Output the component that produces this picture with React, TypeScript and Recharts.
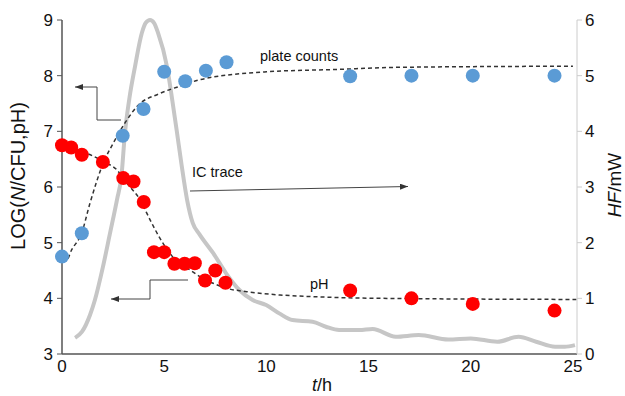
import React from "react";
import { ComposedChart, Line, Scatter, XAxis, YAxis } from "recharts";

const FONT = "'Liberation Sans', Arial, Helvetica, sans-serif";

// plate counts (log N / CFU)
const plateTime = [0, 0.97, 2.97, 3.99, 5.0, 6.03, 7.04, 8.05, 14.1, 17.1, 20.1, 24.1];
const plateLog = [4.75, 5.17, 6.92, 7.4, 8.07, 7.9, 8.09, 8.24, 7.99, 8.0, 8.0, 8.0];

// pH measurements
const phTime = [0, 0.45, 0.97, 2.0, 3.0, 3.5, 4.0, 4.5, 5.0, 5.5, 6.0, 6.5, 7.0, 7.5, 8.0, 14.1, 17.1, 20.1, 24.1];
const phValue = [6.75, 6.71, 6.58, 6.45, 6.16, 6.1, 5.73, 4.83, 4.83, 4.62, 4.62, 4.63, 4.32, 4.5, 4.28, 4.14, 4.0, 3.9, 3.78];

// dashed fitted curves
const plateFitTime = [0, 0.23, 0.47, 0.96, 1.37, 2.02, 2.51, 3.17, 3.65, 4.79, 5.93, 6.67, 10.0, 13.3, 16.5, 25.0];
const plateFitLog = [4.72, 4.69, 4.87, 5.17, 5.71, 6.43, 6.79, 7.2, 7.44, 7.68, 7.83, 7.92, 8.07, 8.11, 8.15, 8.17];

const phFitTime = [0, 0.5, 1.0, 1.5, 2.0, 2.68, 3.17, 3.82, 4.31, 4.79, 5.28, 5.61, 6.26, 6.75, 7.4, 8.06, 9.04, 10.67, 12.29, 13.93, 15.56, 25.2];
const phFitValue = [6.76, 6.7, 6.63, 6.56, 6.46, 6.31, 6.07, 5.77, 5.41, 5.08, 4.81, 4.66, 4.51, 4.39, 4.27, 4.18, 4.12, 4.06, 4.03, 4.01, 4.0, 3.98];

// isothermal calorimetry trace (heat flow, mW)
const icTime = [0.64, 0.98, 1.37, 1.61, 2.0, 2.35, 2.69, 2.91, 3.08, 3.3, 3.57, 3.91, 4.1, 4.31, 4.5, 4.7, 5.14, 5.4, 5.63, 5.85, 6.12, 6.4, 6.73, 7.4, 8.03, 8.68, 9.33, 9.99, 10.63, 11.28, 12.26, 12.91, 13.56, 14.54, 15.2, 16.33, 17.46, 18.9, 20.0, 21.3, 22.34, 23.2, 24.13, 24.6, 25.1];
const icHeat = [0.29, 0.4, 0.7, 0.97, 1.56, 2.17, 2.77, 3.2, 3.97, 4.6, 5.16, 5.77, 5.95, 6.0, 5.95, 5.77, 5.16, 4.55, 3.97, 3.4, 2.77, 2.35, 2.15, 1.81, 1.45, 1.15, 0.97, 0.88, 0.73, 0.61, 0.58, 0.49, 0.43, 0.43, 0.45, 0.31, 0.34, 0.26, 0.28, 0.22, 0.31, 0.22, 0.13, 0.13, 0.16];

const xTicks = [0, 5, 10, 15, 20, 25];
const leftTicks = [3, 4, 5, 6, 7, 8, 9];
const rightTicks = [0, 1, 2, 3, 4, 5, 6];

const zip = (ts: number[], ys: number[]) => ts.map((t, i) => ({ t, y: ys[i] }));

const plateData = zip(plateTime, plateLog);
const phData = zip(phTime, phValue);
const plateFit = zip(plateFitTime, plateFitLog);
const phFit = zip(phFitTime, phFitValue);
const icData = zip(icTime, icHeat);

const dot = (color: string) => (props: any) => (
  <circle cx={props.cx} cy={props.cy} r={7} fill={color} />
);

export default function App() {
  return (
    <div style={{ position: "absolute", left: 0, top: 0, width: 625, height: 396, fontFamily: FONT, background: "#fff" }}>
      <ComposedChart width={625} height={396} margin={{ top: 20, right: 0, bottom: 0, left: 0 }}>
        <XAxis
          type="number"
          dataKey="t"
          domain={[0, 25.2]}
          ticks={xTicks}
          height={42}
          tickLine={false}
          tickSize={4}
          axisLine={{ stroke: "#555", strokeWidth: 1.5 }}
          tick={{ fill: "#111", fontSize: 17, fontFamily: FONT }}
        />
        <YAxis
          yAxisId="log"
          dataKey="y"
          type="number"
          domain={[3, 9]}
          ticks={leftTicks}
          width={62}
          tickSize={5}
          tickMargin={4}
          axisLine={{ stroke: "#555", strokeWidth: 1.5 }}
          tickLine={{ stroke: "#555" }}
          tick={{ fill: "#111", fontSize: 17, fontFamily: FONT }}
        />
        <YAxis
          yAxisId="hf"
          dataKey="y"
          type="number"
          orientation="right"
          domain={[0, 6]}
          ticks={rightTicks}
          width={48}
          tickSize={5}
          tickMargin={3}
          axisLine={{ stroke: "#ccc" }}
          tickLine={{ stroke: "#ccc" }}
          tick={{ fill: "#111", fontSize: 17, fontFamily: FONT }}
        />
        <Line
          yAxisId="hf"
          data={icData}
          dataKey="y"
          type="monotone"
          stroke="#c6c6c6"
          strokeWidth={4}
          dot={false}
          isAnimationActive={false}
        />
        <Line
          yAxisId="log"
          data={plateFit}
          dataKey="y"
          type="monotone"
          stroke="#333"
          strokeWidth={1.5}
          strokeDasharray="4 3"
          dot={false}
          isAnimationActive={false}
        />
        <Line
          yAxisId="log"
          data={phFit}
          dataKey="y"
          type="monotone"
          stroke="#333"
          strokeWidth={1.5}
          strokeDasharray="4 3"
          dot={false}
          isAnimationActive={false}
        />
        <Scatter yAxisId="log" data={plateData} dataKey="y" shape={dot("#5b9bd5")} isAnimationActive={false} />
        <Scatter yAxisId="log" data={phData} dataKey="y" shape={dot("#ff0000")} isAnimationActive={false} />
      </ComposedChart>

      {/* annotations and axis titles */}
      <svg width={625} height={396} style={{ position: "absolute", left: 0, top: 0, pointerEvents: "none" }}>
        <defs>
          <marker id="head" viewBox="0 0 8 6" refX="8" refY="3" markerWidth="8" markerHeight="6" orient="auto" markerUnits="userSpaceOnUse">
            <path d="M0,0 L8,3 L0,6 Z" fill="#333" />
          </marker>
        </defs>
        <g fill="none" stroke="#444" strokeWidth={1}>
          <polyline points="121,120 97,120 97,87 75,87" markerEnd="url(#head)" />
          <polyline points="190,191 408,186.5" markerEnd="url(#head)" />
          <polyline points="188,280 150,280 150,299 111,299" markerEnd="url(#head)" />
        </g>
        <g fontFamily={FONT} fontSize={14.5} fill="#111">
          <text x={260} y={61}>plate counts</text>
          <text x={192} y={176.5}>IC trace</text>
          <text x={310} y={289}>pH</text>
        </g>
        <g fontFamily={FONT} fill="#111">
          <text transform="translate(25,176) rotate(-90)" textAnchor="middle" fontSize={20}>
            LOG(<tspan fontStyle="italic">N</tspan>/CFU,pH)
          </text>
          <text transform="translate(621,185) rotate(-90)" textAnchor="middle" fontSize={19}>
            <tspan fontStyle="italic">HF</tspan>/mW
          </text>
          <text x={322} y={391} textAnchor="middle" fontSize={18}>
            <tspan fontStyle="italic">t</tspan>/h
          </text>
        </g>
      </svg>
    </div>
  );
}
